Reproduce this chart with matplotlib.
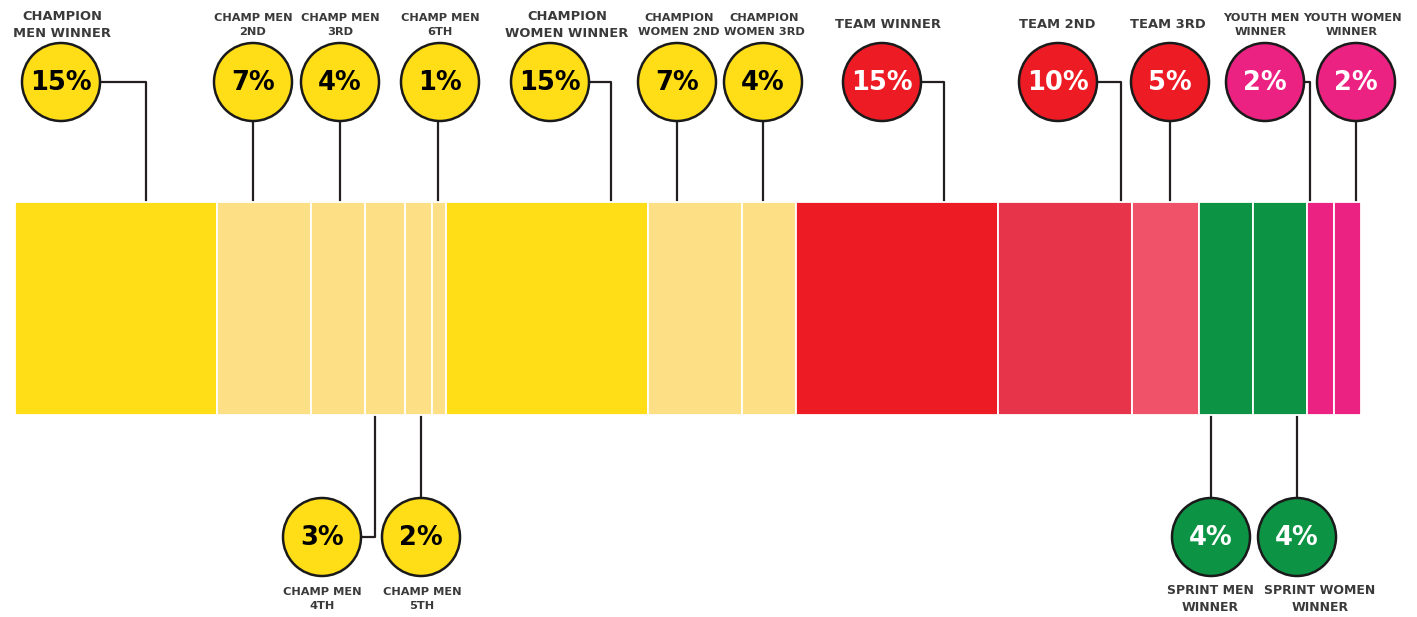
import matplotlib
matplotlib.use("Agg")
from matplotlib import pyplot as plt
from matplotlib.patches import Ellipse
import numpy as np

# Prize split data
categories = ["CHAMPION\nMEN WINNER", "CHAMP MEN\n2ND", "CHAMP MEN\n3RD", "CHAMP MEN\n4TH",
              "CHAMP MEN\n5TH", "CHAMP MEN\n6TH", "CHAMPION\nWOMEN WINNER", "CHAMPION\nWOMEN 2ND",
              "CHAMPION\nWOMEN 3RD", "TEAM WINNER", "TEAM 2ND", "TEAM 3RD",
              "SPRINT MEN\nWINNER", "SPRINT WOMEN\nWINNER", "YOUTH MEN\nWINNER", "YOUTH WOMEN\nWINNER"]
shares = [15, 7, 4, 3, 2, 1, 15, 7, 4, 15, 10, 5, 4, 4, 2, 2]

# Styles
YEL = "#FFDE17"
LYEL = "#FDDF86"
RED = "#ED1C24"
GRN = "#0C9444"
PNK = "#EC2282"
seg_colors = [YEL, LYEL, LYEL, LYEL, LYEL, LYEL, YEL, LYEL, LYEL,
              RED, "#E8344B", "#EF5269", GRN, GRN, PNK, PNK]
circ_colors = [YEL] * 9 + [RED] * 3 + [GRN] * 2 + [PNK] * 2
txt_colors = ["black"] * 9 + ["white"] * 7

# Layout (pixel positions): side, circle x, leader x, label x, label size
side = ["t", "t", "t", "b", "b", "t", "t", "t", "t", "t", "t", "t", "b", "b", "t", "t"]
circ_x = [61, 253, 340, 322, 421, 440, 550, 677, 763, 882, 1058, 1170, 1211, 1297, 1265, 1356]
lead_x = [146, 253, 340, 375, 421, 438, 611, 677, 763, 944, 1121, 1170, 1211, 1297, 1310, 1356]
lab_x = [62, 253, 340, 322, 422, 440, 567, 679, 764, 888, 1057, 1168, 1210, 1320, 1261, 1352]
lab_size = [9.4, 8.2, 8.2, 8.2, 8.2, 8.2, 9.4, 8.2, 8.2, 9.4, 9.4, 9.4, 9.0, 9.0, 8.2, 8.2]

W, H = 1417, 617
X0, X1 = 15, 1361
scale = (X1 - X0) / 100.0
BAR_TOP, BAR_BOT = 202, 415
R = 39
TOP_CY, BOT_CY = 82, 537


def px(p):
    return (p - X0) / scale


fig = plt.figure(figsize=(W / 100, H / 100), dpi=100)
ax = fig.add_axes([0, 0, 1, 1])
ax.set_xlim(px(0), px(W))
ax.set_ylim(H, 0)
ax.axis("off")

lefts = np.concatenate([[0], np.cumsum(shares)[:-1]])
ax.barh((BAR_TOP + BAR_BOT) / 2, shares, left=lefts, height=BAR_BOT - BAR_TOP,
        color=seg_colors, edgecolor="white", linewidth=1.3, zorder=2)

rx = R / scale
for i, name in enumerate(categories):
    cx = px(circ_x[i])
    lx = px(lead_x[i])
    cy = TOP_CY if side[i] == "t" else BOT_CY
    # leader line
    if abs(circ_x[i] - lead_x[i]) < 4:
        if side[i] == "t":
            ax.plot([lx, lx], [cy + R, BAR_TOP], color="#231F20", lw=1.6, zorder=1)
        else:
            ax.plot([lx, lx], [BAR_BOT, cy - R], color="#231F20", lw=1.6, zorder=1)
    else:
        y_bar = BAR_TOP if side[i] == "t" else BAR_BOT
        ax.plot([cx + rx, lx, lx], [cy, cy, y_bar], color="#231F20", lw=1.6, zorder=1)
    # circle
    ax.add_patch(Ellipse((cx, cy), 2 * rx, 2 * R, facecolor=circ_colors[i],
                         edgecolor="#1a1a1a", linewidth=1.8, zorder=3))
    ax.text(cx, cy + 1, f"{shares[i]}%", ha="center", va="center", fontsize=18.5,
            fontweight="heavy", color=txt_colors[i], zorder=4)
    # label
    ly = 25 if side[i] == "t" else 599
    ax.text(px(lab_x[i]), ly, name, ha="center", va="center", fontsize=lab_size[i],
            fontweight="bold", color="#3a3a3a", linespacing=1.4)

fig.savefig("out.png", dpi=100, facecolor="white")
